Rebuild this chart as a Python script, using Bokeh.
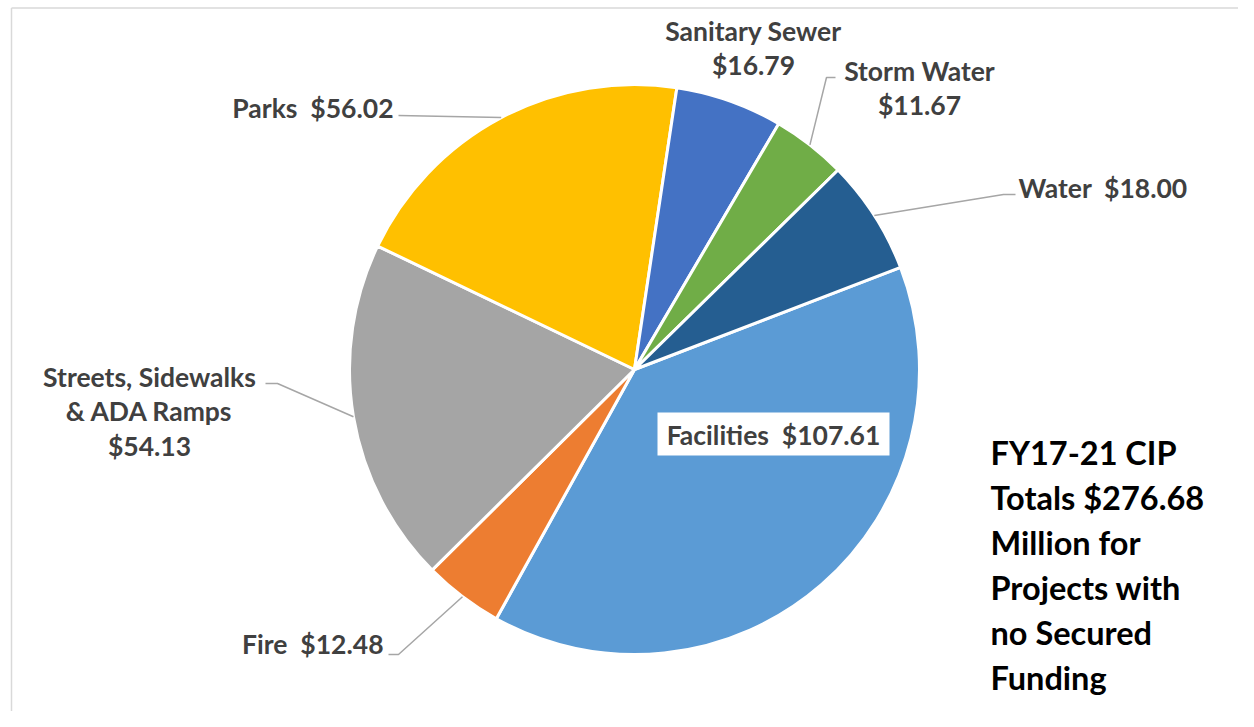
import numpy as np
from bokeh.plotting import figure
from bokeh.models import Range1d
from bokeh.core.properties import value
from bokeh.embed import file_html
from bokeh.resources import INLINE

# ---------------- data ----------------
categories = ["Facilities", "Fire", "Streets, Sidewalks & ADA Ramps", "Parks",
              "Sanitary Sewer", "Storm Water", "Water"]
amounts = [107.61, 12.48, 54.13, 56.02, 16.79, 11.67, 18.00]
colors = ["#5B9BD5", "#ED7D31", "#A5A5A5", "#FFC000", "#4472C4", "#70AD47", "#255E91"]
note_lines = ["FY17-21 CIP", "Totals $276.68", "Million for", "Projects with",
              "no Secured", "Funding"]

# ---------------- layout helpers (screenshot pixel coords) ----------------
W, H = 1238, 711
OFF = 0
def px(x):
    return x - OFF
def py(y):
    return OFF + H - y

CX, CY, R = 634, 369, 285       # pie centre / radius in px
FIRST_ANGLE = 69.0              # first slice starts 69 deg clockwise from 12 o'clock
NB = "\u00a0"

p = figure(width=W, height=H, output_backend="svg", toolbar_location=None,
           x_range=Range1d(0, W), y_range=Range1d(0, H), min_border=0)
p.axis.visible = False
p.grid.visible = False
p.outline_line_color = None
p.background_fill_color = "white"

# light frame (top / left)
p.multi_line(xs=[[px(11), px(1260)], [px(11), px(11)]],
             ys=[[py(7.5), py(7.5)], [py(7.5), py(740)]],
             line_color="#D9D9D9", line_width=1.5)

# ---------------- pie ----------------
total = sum(amounts)
fr = np.array(amounts) / total * 360.0
theta_start = FIRST_ANGLE + np.concatenate([[0], np.cumsum(fr)[:-1]])
theta_end = theta_start + fr
theta_mid = (theta_start + theta_end) / 2
start_ang = np.deg2rad(90 - theta_start)
end_ang = np.deg2rad(90 - theta_end)

p.wedge(x=px(CX), y=py(CY), radius=R, start_angle=start_ang, end_angle=end_ang,
        direction="clock", fill_color=colors, line_color="white", line_width=3)

mid_x = CX + R * np.sin(np.deg2rad(theta_mid))
mid_y = CY - R * np.cos(np.deg2rad(theta_mid))

def money(v):
    return f"${v:.2f}"

lbl = {
    "Facilities": dict(lines=[f"Facilities{NB} {money(amounts[0])}"], x=773, y=[434], align="center"),
    "Fire": dict(lines=[f"Fire{NB} {money(amounts[1])}"], x=383, y=[643], align="right",
                 leader=[(388, 654), (398, 654)]),
    "Streets": dict(lines=["Streets, Sidewalks", "& ADA Ramps", money(amounts[2])], x=149,
                    y=[376, 410, 445], align="center", leader=[(265, 383), (277, 383)]),
    "Parks": dict(lines=[f"Parks{NB} {money(amounts[3])}"], x=393, y=[107], align="right",
                  leader=[(398, 115)]),
    "Sanitary": dict(lines=["Sanitary Sewer", money(amounts[4])], x=753, y=[30, 64], align="center"),
    "Storm": dict(lines=["Storm Water", money(amounts[5])], x=919, y=[70, 104], align="center",
                  leader=[(835, 77), (826, 77)]),
    "Water": dict(lines=[f"Water{NB} {money(amounts[6])}"], x=1018, y=[187], align="left",
                  leader=[(1015, 194), (1003, 194)]),
}
order = ["Facilities", "Fire", "Streets", "Parks", "Sanitary", "Storm", "Water"]

# leader lines
lx, ly = [], []
for i, k in enumerate(order):
    d = lbl[k]
    if "leader" in d:
        pts = d["leader"] + [(mid_x[i], mid_y[i])]
        lx.append([px(a) for a, b in pts])
        ly.append([py(b) for a, b in pts])
p.multi_line(xs=lx, ys=ly, line_color="#A6A6A6", line_width=1.5)

# facilities label box
p.rect(x=px(773), y=py(433.5), width=232, height=43, fill_color="white", line_color=None)

# labels
for k in order:
    d = lbl[k]
    for t, yy in zip(d["lines"], d["y"]):
        p.text(x=[px(d["x"])], y=[py(yy)], text=[t], text_align=d["align"],
               text_baseline="middle", text_font=value("Lato"), text_font_style="bold",
               text_font_size="26.5px", text_color="#404040")

# note text
for j, t in enumerate(note_lines):
    p.text(x=[px(990)], y=[py(452 + 45 * j)], text=[t], text_align="left",
           text_baseline="middle", text_font=value("Lato"), text_font_style="bold",
           text_font_size="32.5px", text_color="#000000")

open("out.html", "w").write(file_html(p, INLINE))
